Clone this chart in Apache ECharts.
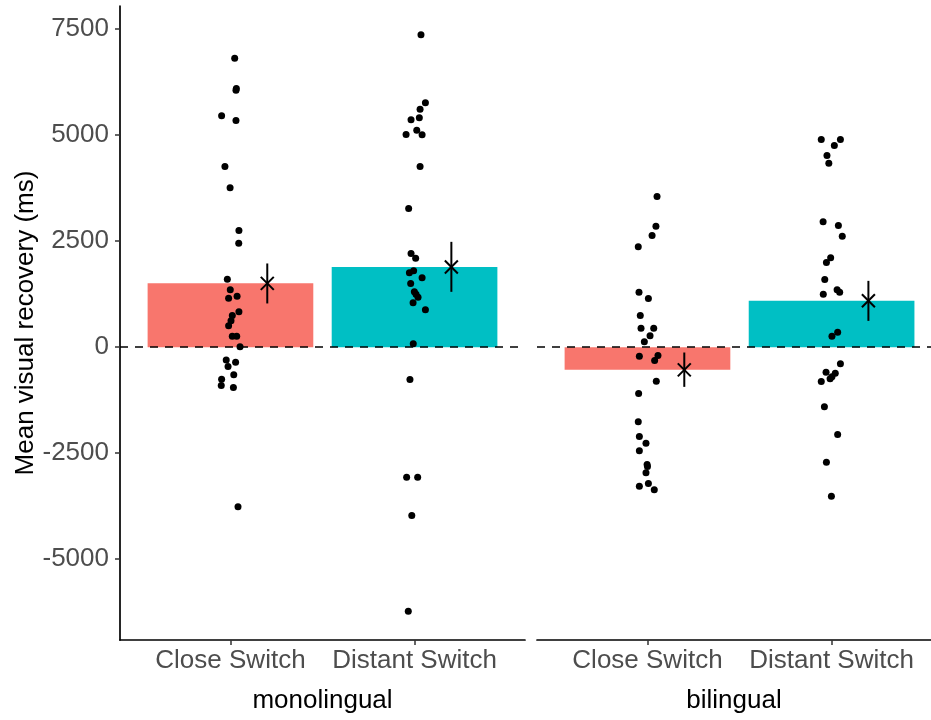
<!DOCTYPE html>
<html>
<head>
<meta charset="utf-8">
<script src="https://cdn.jsdelivr.net/npm/echarts@6/dist/echarts.min.js"></script>
<style>
  html, body { margin: 0; padding: 0; background: #fff; }
  #chart { width: 931px; height: 720px; }
</style>
</head>
<body>
<div id="chart"></div>
<script>
// categories / facets
var categories = ['Close Switch', 'Distant Switch'];
var groups = ['monolingual', 'bilingual'];
var yTicks = [-5000, -2500, 0, 2500, 5000, 7500];

// means and error bar limits (Close, Distant)
var monoMeans = [1505, 1890];
var monoLow = [1031, 1305];
var monoHigh = [1974, 2484];
var biMeans = [-535, 1095];
var biLow = [-936, 620];
var biHigh = [-126, 1564];
var errOffset = 0.2;

// individual participants [jittered x, value]
var monoClose = [
  [1.023, 6816], [1.032, 6100], [1.030, 6060], [0.952, 5455], [1.030, 5346], [0.970, 4261],
  [0.998, 3758], [1.046, 2752], [1.045, 2453], [0.983, 1604], [0.999, 1352], [0.990, 1156],
  [1.036, 1203], [1.046, 833], [1.010, 747], [1.003, 621], [0.990, 503], [1.010, 259],
  [1.034, 259], [1.052, 7], [0.977, -300], [1.028, -354], [0.987, -456], [1.018, -652],
  [0.952, -755], [0.950, -904], [1.016, -951], [1.041, -3766]
];
var monoDistant = [
  [2.035, 7366], [2.059, 5762], [2.030, 5613], [2.026, 5409], [1.981, 5362], [2.012, 5118],
  [1.954, 5016], [2.041, 5008], [2.030, 4261], [1.968, 3271], [1.981, 2210], [2.006, 2099],
  [1.995, 1800], [1.972, 1753], [2.041, 1635], [1.979, 1502], [1.999, 1305], [2.008, 1250],
  [2.019, 1179], [1.992, 1045], [2.059, 880], [1.993, 78], [1.975, -762], [1.957, -3066],
  [2.017, -3066], [1.985, -3970], [1.966, -6226]
];
var biClose = [
  [1.052, 3554], [1.046, 2854], [1.025, 2634], [0.950, 2366], [0.954, 1297], [1.005, 1148],
  [0.961, 747], [0.965, 448], [1.034, 448], [1.014, 267], [0.983, 126], [0.956, -212],
  [1.057, -197], [1.039, -314], [1.048, -802], [0.952, -1093], [0.950, -1761], [0.956, -2107],
  [0.992, -2264], [0.956, -2445], [0.998, -2767], [1.000, -2814], [0.992, -2964], [0.956, -3278],
  [1.005, -3215], [1.037, -3365]
];
var biDistant = [
  [1.944, 4898], [2.048, 4898], [2.015, 4757], [1.975, 4521], [1.985, 4340], [1.954, 2956],
  [2.037, 2870], [2.058, 2618], [1.995, 2107], [1.972, 1997], [1.963, 1596], [1.955, 1250],
  [2.030, 1352], [2.044, 1297], [2.033, 354], [2.002, 259], [2.048, -393], [1.970, -590],
  [2.020, -613], [1.992, -747], [2.002, -700], [1.944, -810], [1.961, -1407], [2.033, -2060],
  [1.972, -2712], [1.999, -3514]
];

var barColors = ['#F8766D', '#00BFC4'];
var font = '"Liberation Sans", Arial, Helvetica, sans-serif';
var yMin = -6906, yMax = 8046;
// second panel is cut by the right edge of the image, so its x range stops early
var xRanges = [[0.4, 2.6], [0.4, 2.54]];

var myChart = echarts.init(document.getElementById('chart'));

// bar drawn from 0 to the mean, 0.9 wide
function renderBar(params, api) {
    var x = api.value(0), v = api.value(1);
    var p0 = api.coord([x - 0.45, v]);
    var p1 = api.coord([x + 0.45, 0]);
    return {
        type: 'rect',
        shape: { x: p0[0], y: Math.min(p0[1], p1[1]), width: p1[0] - p0[0], height: Math.abs(p1[1] - p0[1]) },
        style: { fill: barColors[Math.round(x) - 1] }
    };
}

// error bar + cross at the mean
function renderErr(params, api) {
    var x = api.value(0), m = api.value(1), lo = api.value(2), hi = api.value(3);
    var pm = api.coord([x, m]), pl = api.coord([x, lo]), ph = api.coord([x, hi]);
    var s = 6.5;
    var st = { stroke: '#000', lineWidth: 2 };
    return {
        type: 'group',
        children: [
            { type: 'line', shape: { x1: pl[0], y1: pl[1], x2: ph[0], y2: ph[1] }, style: st },
            { type: 'line', shape: { x1: pm[0] - s, y1: pm[1] - s, x2: pm[0] + s, y2: pm[1] + s }, style: st },
            { type: 'line', shape: { x1: pm[0] - s, y1: pm[1] + s, x2: pm[0] + s, y2: pm[1] - s }, style: st }
        ]
    };
}

var facetData = [
    { means: monoMeans, low: monoLow, high: monoHigh, pts: [monoClose, monoDistant] },
    { means: biMeans, low: biLow, high: biHigh, pts: [biClose, biDistant] }
];

var series = [];
facetData.forEach(function (f, i) {
    series.push({
        type: 'custom',
        xAxisIndex: i, yAxisIndex: i,
        renderItem: renderBar,
        encode: { x: 0, y: 1 },
        z: 1,
        data: f.means.map(function (m, k) { return [k + 1, m]; }),
        markLine: {
            silent: true,
            symbol: 'none',
            label: { show: false },
            lineStyle: { color: '#000', width: 1.6, type: [8, 7] },
            data: [{ yAxis: 0 }]
        }
    });
    f.pts.forEach(function (p) {
        series.push({
            type: 'scatter',
            xAxisIndex: i, yAxisIndex: i,
            symbolSize: 7,
            itemStyle: { color: '#000', opacity: 1 },
            z: 10,
            data: p
        });
    });
    series.push({
        type: 'custom',
        xAxisIndex: i, yAxisIndex: i,
        renderItem: renderErr,
        encode: { x: 0, y: [1, 2, 3] },
        z: 11,
        data: f.means.map(function (m, k) { return [k + 1 + errOffset, m, f.low[k], f.high[k]]; })
    });
});

var option = {
    animation: false,
    backgroundColor: '#fff',
    textStyle: { fontFamily: font },
    grid: [
        { left: 120, top: 6, width: 405, height: 634 },
        { left: 537, top: 6, width: 394, height: 634 }
    ],
    xAxis: groups.map(function (g, i) {
        return {
            gridIndex: i,
            type: 'value',
            min: xRanges[i][0], max: xRanges[i][1],
            name: g,
            nameLocation: 'middle',
            nameGap: 48,
            nameTextStyle: { fontSize: 26, color: '#000', fontFamily: font },
            axisLine: { onZero: false, lineStyle: { color: '#000', width: 1.7 } },
            axisTick: { customValues: [1, 2], length: 5, lineStyle: { color: '#333', width: 1.5 } },
            axisLabel: {
                customValues: [1, 2],
                formatter: function (v) { return categories[Math.round(v) - 1]; },
                fontSize: 26, color: '#4d4d4d', margin: 8, fontFamily: font
            },
            splitLine: { show: false }
        };
    }),
    yAxis: [
        {
            gridIndex: 0,
            type: 'value',
            min: yMin, max: yMax,
            name: 'Mean visual recovery (ms)',
            nameLocation: 'middle',
            nameGap: 74,
            nameTextStyle: { fontSize: 26, color: '#000', fontFamily: font },
            axisLine: { show: true, onZero: false, lineStyle: { color: '#000', width: 1.7 } },
            axisTick: { show: true, customValues: yTicks, length: 5, lineStyle: { color: '#333', width: 1.5 } },
            axisLabel: {
                customValues: yTicks,
                formatter: function (v) { return String(v); },
                fontSize: 26, color: '#4d4d4d', margin: 11, fontFamily: font
            },
            splitLine: { show: false }
        },
        {
            gridIndex: 1,
            type: 'value',
            min: yMin, max: yMax,
            show: false,
            splitLine: { show: false }
        }
    ],
    series: series
};

myChart.setOption(option);
</script>
</body>
</html>
